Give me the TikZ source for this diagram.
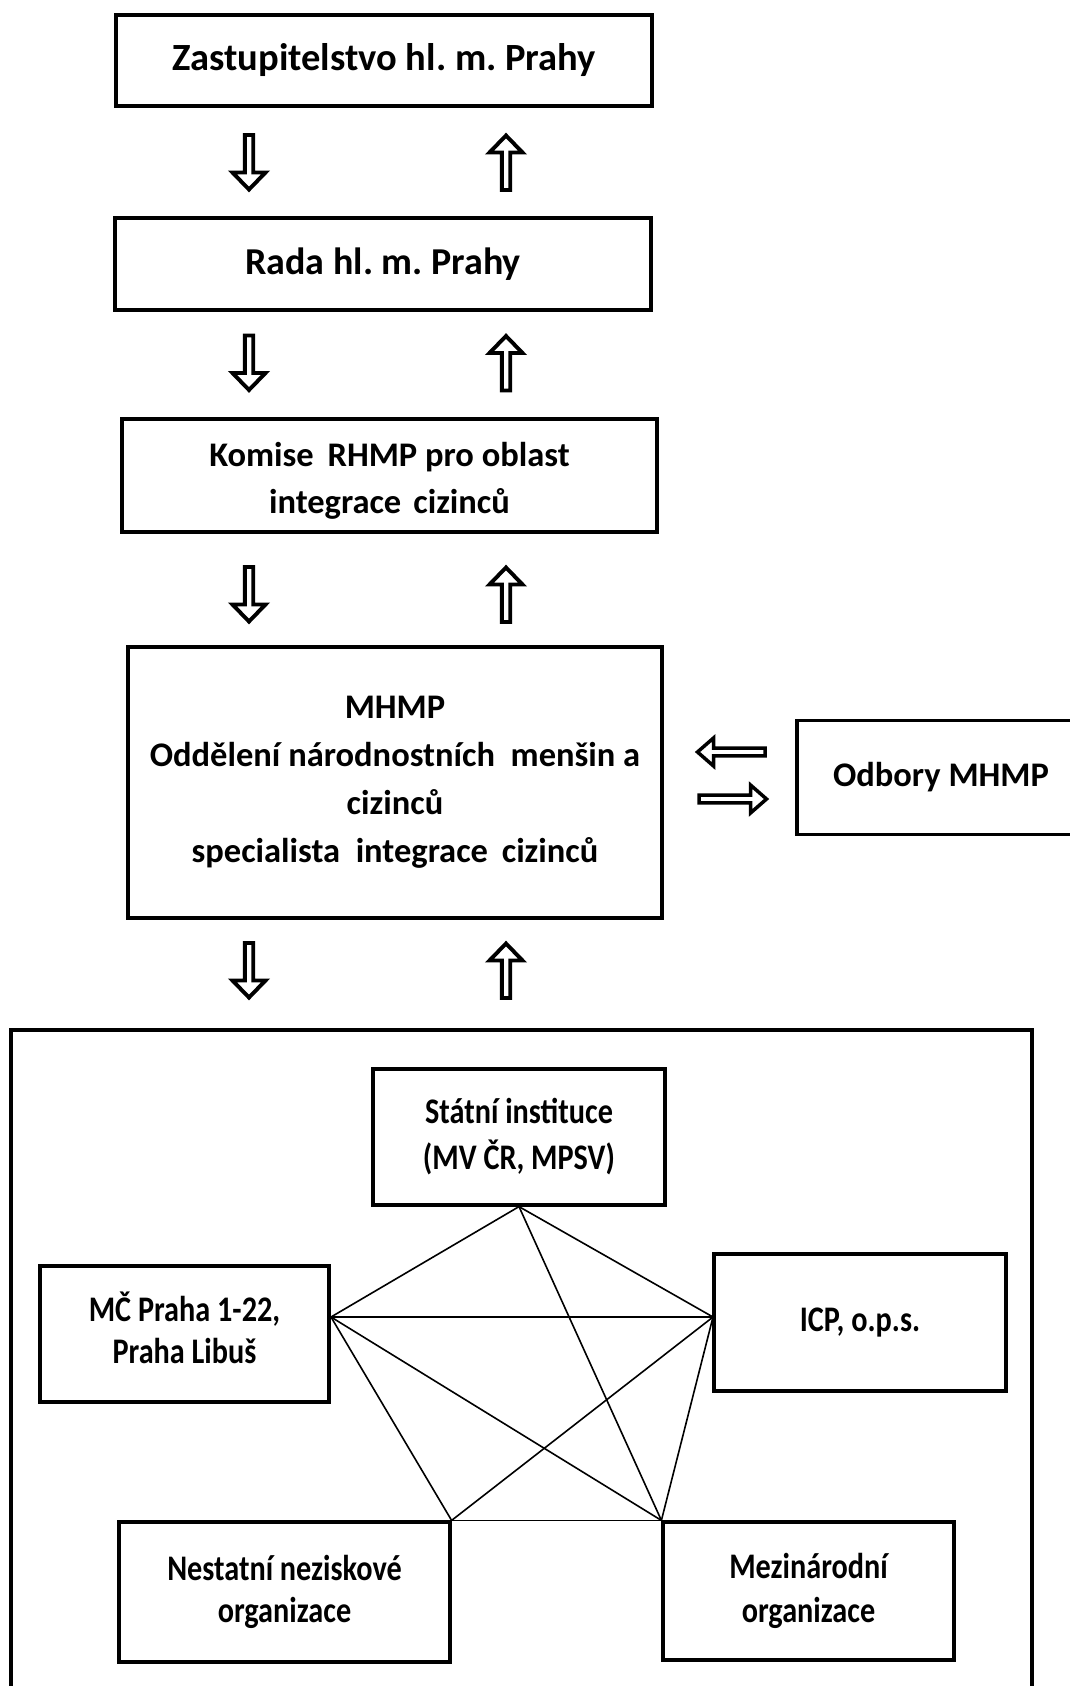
\documentclass[tikz,border=0pt]{standalone}
\usepackage{fontspec}
\setmainfont{Carlito}
\newfontfamily\condfont[FakeStretch=0.84]{Carlito}
\frenchspacing
\begin{document}
\begin{tikzpicture}[x=1pt,y=-1pt,
  box/.style={draw,line width=3.2pt,rectangle,align=center,inner sep=0pt},
  bigtext/.style={font=\fontsize{38.5}{47}\selectfont\bfseries},
  midtext/.style={font=\fontsize{34.5}{48}\selectfont\bfseries},
  sbox/.style={draw,line width=3.2pt,rectangle,align=center,inner sep=0pt},
  stext/.style={font=\condfont\fontsize{36}{#1}\selectfont\bfseries},
  arr/.style={draw,line width=3.9pt,fill=white,line join=miter},
  harr/.style={draw,line width=3.5pt,fill=white,line join=miter},
  link/.style={line width=1.6pt},
  pics/varrow/.style={code={\draw[arr] (-4.2,-27.5) -- (4.2,-27.5) -- (4.2,10) -- (16.5,10) -- (0,27) -- (-16.5,10) -- (-4.2,10) -- cycle;}},
  pics/harrow/.style={code={\draw[harr] (-34,-3.8) -- (17.5,-3.8) -- (17.5,-14) -- (33.5,0) -- (17.5,14) -- (17.5,3.8) -- (-34,3.8) -- cycle;}}
]
\useasboundingbox[fill=white] (0,0) rectangle (1070,1686);

% main column
\node[box,bigtext,minimum width=536,minimum height=91] (zast) at (384,60.5) {Zastupitelstvo hl. m. Prahy};
\node[box,minimum width=536,minimum height=92,font=\fontsize{38}{47}\selectfont\bfseries] (rada) at (383,264) {Rada hl. m. Prahy};
\node[box,midtext,minimum width=535,minimum height=113] (komise) at (389.5,475.5) {\raisebox{-5pt}[\height][\depth]{\begin{tabular}{@{}c@{}}Komise\hspace{0.4em}RHMP pro oblast\\[-1pt]integrace\hspace{0.35em}cizinců\end{tabular}}};
\node[box,midtext,minimum width=534,minimum height=271] (mhmp) at (395,782.5) {MHMP\\Oddělení národnostních\ \ menšin a\\cizinců\\specialista\hspace{0.45em}integrace\hspace{0.4em}cizinců};
\node[box,minimum width=288,minimum height=114,font=\fontsize{34.5}{47}\selectfont\bfseries] (odbory) at (941,777.5) {Odbory MHMP};

% vertical block arrows
\foreach \y in {162.5,363,594.5,970.5}{
  \pic at (249,\y) {varrow};
  \pic[yscale=-1] at (506,\y) {varrow};
}
% horizontal block arrows
\pic[xscale=-1] at (731,752) {harrow};
\pic at (733,799) {harrow};

% lower group frame
\node[draw,line width=3.4pt,rectangle,minimum width=1021,minimum height=700,inner sep=0pt] (group) at (521.5,1380) {};

\node[sbox,stext=46,minimum width=292,minimum height=136] (st) at (519,1137) {Státní instituce\\(MV ČR, MPSV)};
\node[sbox,stext=43,minimum width=289,minimum height=136] (mc) at (184.5,1334) {\raisebox{3.5pt}{\begin{tabular}{@{}c@{}}MČ Praha 1-22,\\[-1pt]Praha Libuš\end{tabular}}};
\node[sbox,stext=44,minimum width=292,minimum height=137] (icp) at (860,1322.5) {ICP, o.p.s.};
\node[sbox,stext=42,minimum width=331,minimum height=140] (nest) at (284.5,1592) {Nestatní neziskové\\organizace};
\node[sbox,stext=44,minimum width=291,minimum height=138] (mez) at (808.5,1591) {Mezinárodní\\organizace};

\coordinate (pS) at (st.south);
\coordinate (pM) at (331,1317);
\coordinate (pI) at (713,1317);
\coordinate (pN) at (nest.north east);
\coordinate (pZ) at (mez.north west);

\draw[link] (pS) -- (pM);
\draw[link] (pS) -- (pI);
\draw[link] (pS) -- (pZ);
\draw[link] (pM) -- (pI);
\draw[link] (pM) -- (pN);
\draw[link] (pM) -- (pZ);
\draw[link] (pI) -- (pN);
\draw[link] (pI) -- (pZ);
\draw[link] (pN) -- (pZ);
\end{tikzpicture}
\end{document}
